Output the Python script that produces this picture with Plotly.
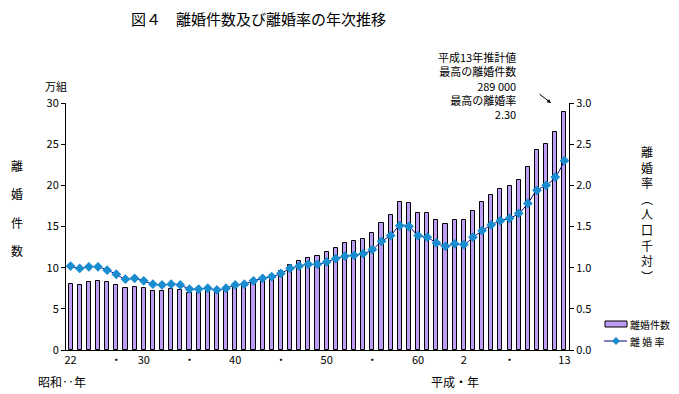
import plotly.graph_objects as go

years = list(range(1947, 2002))
divorces_man = [7.96, 7.90, 8.26, 8.37, 8.23, 7.90, 7.53, 7.68, 7.53, 7.20,
                7.17, 7.40, 7.25, 6.94, 6.93, 7.14, 7.00, 7.23, 7.72, 7.94,
                8.35, 8.73, 9.13, 9.59, 10.36, 10.84, 11.19, 11.36, 11.91, 12.45,
                12.95, 13.21, 13.53, 14.17, 15.42, 16.40, 17.92, 17.87, 16.66, 16.61,
                15.82, 15.36, 15.78, 15.76, 16.90, 17.92, 18.83, 19.51, 19.90, 20.70,
                22.26, 24.32, 25.05, 26.42, 28.90]
divorce_rate = [1.02, 0.99, 1.01, 1.01, 0.97, 0.92, 0.86, 0.87, 0.84, 0.80,
                0.79, 0.80, 0.79, 0.74, 0.74, 0.75, 0.73, 0.75, 0.79, 0.80,
                0.84, 0.87, 0.89, 0.93, 0.99, 1.02, 1.04, 1.04, 1.07, 1.11,
                1.14, 1.15, 1.17, 1.22, 1.32, 1.39, 1.51, 1.50, 1.39, 1.37,
                1.30, 1.26, 1.29, 1.28, 1.37, 1.45, 1.52, 1.57, 1.60, 1.66,
                1.78, 1.94, 2.00, 2.10, 2.30]
tick_years = [1947, 1952, 1955, 1960, 1965, 1970, 1975, 1980, 1985, 1990, 1995, 2001]
tick_labels = ["22", "・", "30", "・", "40", "・", "50", "・", "60", "2", "・", "13"]
left_ticks = [0, 5, 10, 15, 20, 25, 30]
right_ticks = [0.0, 0.5, 1.0, 1.5, 2.0, 2.5, 3.0]
series_names = ["離婚件数", "離 婚 率"]

FONT = "Noto Sans CJK JP"
OFF = 8  # page body margin
FW, FH = 679 - OFF, 394 - OFF
L, R, T, B = 66, 569, 103, 350  # plot area in page pixels
PW, PH = R - L, B - T
BAR_COLOR = "#BE9EF5"
LINE_COLOR = "#000080"
MARK_COLOR = "#1A8CD0"

fig = go.Figure()
fig.add_trace(go.Bar(
    x=years, y=divorces_man, name=series_names[0], width=0.45,
    marker=dict(color=BAR_COLOR, line=dict(color="black", width=1)),
))
fig.add_trace(go.Scatter(
    x=years, y=divorce_rate, name=series_names[1], yaxis="y2", mode="lines+markers",
    line=dict(color=LINE_COLOR, width=1, shape="spline"),
    marker=dict(symbol="diamond", size=7.5, color=MARK_COLOR),
))

fig.update_layout(
    width=FW, height=FH,
    margin=dict(l=L - OFF, r=679 - R, t=T - OFF, b=394 - B, autoexpand=False),
    paper_bgcolor="white", plot_bgcolor="white",
    font=dict(family=FONT, size=11, color="black"),
    showlegend=False,
    xaxis=dict(range=[1946.5, 2001.5], tickmode="array", tickvals=tick_years,
               ticktext=tick_labels, showline=True, linecolor="black", linewidth=1,
               ticks="", showgrid=False, zeroline=False, tickfont=dict(size=11)),
    yaxis=dict(range=[0, 30], tickmode="array", tickvals=left_ticks,
               showline=True, linecolor="black", linewidth=1, ticks="outside",
               ticklen=4, tickcolor="black", showgrid=False, zeroline=False),
    yaxis2=dict(range=[0, 3], overlaying="y", side="right", tickmode="array",
                tickvals=right_ticks, tickformat=".1f", showline=True,
                linecolor="black", linewidth=1, ticks="outside", ticklen=4,
                tickcolor="black", showgrid=False, zeroline=False),
    bargap=0,
)

ann = []
shapes = []
def px(x):
    return (x - L) / PW
def py(y):
    return (B - y) / PH

def txt(x, y, t, size=12, xanchor="center", align="center"):
    ann.append(dict(x=px(x), y=py(y), xref="paper", yref="paper", text=t,
                    showarrow=False, font=dict(size=size, family=FONT),
                    xanchor=xanchor, yanchor="middle", align=align))

txt(258, 18, "図４　離婚件数及び離婚率の年次推移", size=15)
txt(56, 86, "万組", size=11)
for i, ch in enumerate("離婚件数"):
    txt(17, 165 + i * 28.5, ch, size=12)
txt(647, 214, "<br>".join("離婚率︵人口千対︶"), size=12)
txt(62, 381, "昭和‥年", size=12)
txt(455, 381, "平成・年", size=12)
txt(518, 86, "平成13年推計値<br>最高の離婚件数<br>289 000<br>最高の離婚率<br>2.30",
    size=11, xanchor="right", align="right")
ann.append(dict(x=px(551), y=py(103), xref="paper", yref="paper",
                ax=-13, ay=-10, showarrow=True, arrowhead=2, arrowsize=0.8,
                arrowwidth=1, arrowcolor="black", text=""))

# manual legend
shapes.append(dict(type="rect", xref="paper", yref="paper",
                   x0=px(605), x1=px(627), y0=py(327), y1=py(321),
                   fillcolor=BAR_COLOR, line=dict(color="black", width=1)))
shapes.append(dict(type="line", xref="paper", yref="paper",
                   x0=px(604), x1=px(627), y0=py(341), y1=py(341),
                   line=dict(color=LINE_COLOR, width=1)))
d = 4
cxm, cym = 616, 341
shapes.append(dict(type="path", xref="paper", yref="paper",
                   path=f"M {px(cxm-d)} {py(cym)} L {px(cxm)} {py(cym-d)} "
                        f"L {px(cxm+d)} {py(cym)} L {px(cxm)} {py(cym+d)} Z",
                   fillcolor=MARK_COLOR, line=dict(color=MARK_COLOR, width=0)))
txt(628, 324, series_names[0], size=10, xanchor="left")
txt(628, 341, series_names[1], size=10, xanchor="left")

fig.update_layout(annotations=ann, shapes=shapes)

fig.write_html("out.html")
